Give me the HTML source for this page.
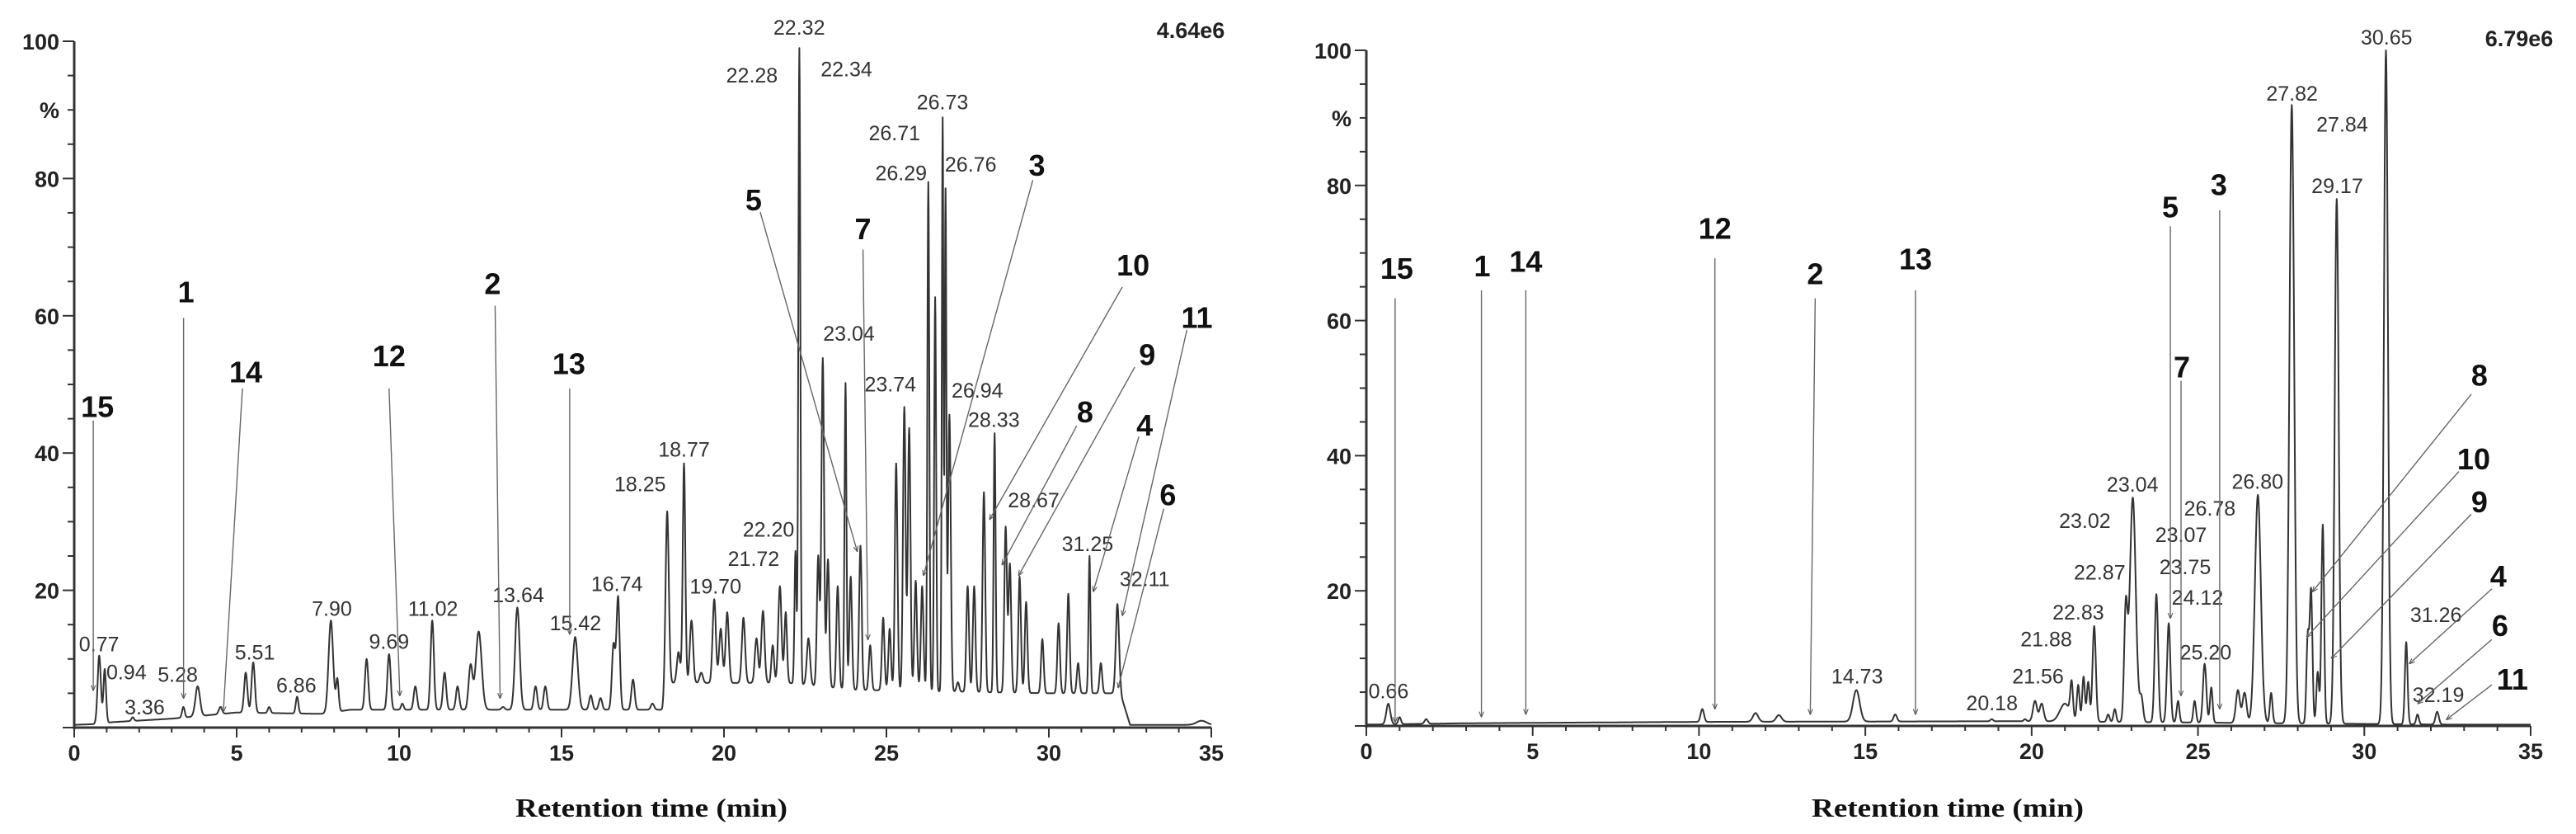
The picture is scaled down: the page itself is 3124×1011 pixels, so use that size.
<!DOCTYPE html>
<html><head><meta charset="utf-8">
<style>
html,body{margin:0;padding:0;background:#fff;}
svg{display:block;}
.tick{font-family:"Liberation Sans",sans-serif;font-weight:bold;font-size:27px;fill:#222;}
.plab{font-family:"Liberation Sans",sans-serif;font-size:25px;fill:#333;}
.num{font-family:"Liberation Sans",sans-serif;font-weight:bold;font-size:36px;fill:#111;}
.xt{font-family:"Liberation Serif",serif;font-weight:bold;font-size:32px;fill:#111;}
</style></head>
<body>
<svg id="root" width="3124" height="1011" viewBox="0 0 3124 1011" xmlns="http://www.w3.org/2000/svg">
<defs>
<marker id="ah" viewBox="0 0 10 10" refX="9" refY="5" markerWidth="5" markerHeight="5" orient="auto"><path d="M0,1 L10,5 L0,9" fill="none" stroke="#555" stroke-width="1.5"/></marker>
</defs>
<g id="left"></g>
<g id="right"></g>
</svg>
<script>
// ---------- LEFT chart data ----------
const leftPeakTimes = [0.77,0.94,1.8,3.36,3.8,4.5,5.28,5.51,6.0,6.86,7.90,8.1,9.0,9.69,10.1,10.5,11.02,11.4,11.8,12.2,12.45,13.2,13.64,14.2,14.5,15.42,15.9,16.2,16.6,16.74,17.2,17.8,18.25,18.6,18.77,19.0,19.3,19.70,19.9,20.1,20.6,21.0,21.2,21.5,21.72,21.9,22.20,22.32,22.6,22.9,23.04,23.2,23.5,23.74,23.9,24.2,24.5,24.9,25.1,25.3,25.55,25.7,25.9,26.1,26.29,26.5,26.73,26.82,26.94,27.2,27.5,27.7,28.0,28.33,28.67,28.8,29.1,29.3,29.8,30.3,30.6,30.9,31.25,31.6,32.11,34.7];
const leftPeakHeights = [10.5,8.5,1.5,3,6,3,8,9.5,3,4.5,15.6,7,10,10.7,3.5,6,15.6,8,6,9,14,3,17.5,6,6,13.2,4.7,4.3,12,19,7,3.5,31.5,11,38.5,15.6,8,18.7,14.4,16.8,16,13,17,12,20.6,16.8,25.7,99,13,25,53.8,24.5,20.6,50.2,22,26.5,12,16,14.4,38.5,46.7,43.6,21.4,20.6,79.5,62.7,88.8,78,45.6,6.6,20.6,20.6,34.3,42.9,29.2,23.8,22,18.3,12.9,15.2,19.5,9.4,25,9.4,18,1];
const leftPeakWidths = [0.05,0.04,0.04,0.04,0.07,0.05,0.05,0.05,0.04,0.04,0.07,0.04,0.05,0.05,0.04,0.05,0.05,0.05,0.05,0.06,0.09,0.05,0.07,0.05,0.05,0.08,0.05,0.05,0.05,0.05,0.05,0.05,0.05,0.05,0.04,0.05,0.05,0.05,0.05,0.05,0.05,0.05,0.05,0.04,0.05,0.04,0.03,0.03,0.05,0.04,0.04,0.04,0.04,0.03,0.04,0.04,0.04,0.04,0.04,0.04,0.04,0.04,0.04,0.04,0.03,0.03,0.025,0.025,0.04,0.04,0.04,0.04,0.04,0.03,0.04,0.04,0.04,0.04,0.04,0.04,0.04,0.04,0.03,0.04,0.05,0.15];
const leftBaseTimes = [0,0.6,1.2,3,5,7.6,8.5,18.1,18.3,22,24,30,32.2,32.5,35];
const leftBaseValues = [0.4,0.5,0.8,1.3,2.2,2,2.6,2.6,6.5,6.5,5.5,5,5,0.4,0.4];
const leftTimeLabels = ["22.32","22.28","22.34","26.73","26.71","26.29","26.76","23.04","23.74","26.94","28.33","28.67","18.77","18.25","22.20","21.72","19.70","16.74","31.25","32.11","13.64","15.42","11.02","7.90","9.69","5.51","6.86","5.28","0.77","0.94","3.36"];
const leftCompoundLabels = ["15","1","14","12","2","13","5","7","3","10","9","8","11","4","6"];

// ---------- RIGHT chart data ----------
const rightPeakTimes = [0.66,1.0,1.8,10.1,11.7,12.4,14.73,15.9,18.8,19.8,20.1,20.3,21.0,21.2,21.4,21.56,21.7,21.88,22.3,22.5,22.83,23.04,23.3,23.75,24.12,24.4,24.9,25.20,25.4,26.2,26.4,26.80,27.2,27.82,28.3,28.4,28.6,28.75,29.17,30.65,31.26,31.6,32.19];
const rightPeakHeights = [3.3,1.3,1,2.5,1.9,1.6,5.3,1.7,1,1,3.7,3.3,3.3,5.7,6,7.3,6.5,14.8,1.7,2.5,16.8,33.8,4.1,19.5,15.2,3.7,3.7,9.2,5.7,5.3,4.9,34.2,4.9,91.9,13.2,19.9,8,29.8,78,100,12.4,1.7,2.1];
const rightPeakWidths = [0.06,0.04,0.05,0.05,0.08,0.08,0.1,0.05,0.04,0.04,0.06,0.06,0.15,0.04,0.04,0.04,0.04,0.05,0.04,0.04,0.05,0.09,0.05,0.05,0.05,0.04,0.04,0.05,0.04,0.06,0.06,0.09,0.04,0.07,0.04,0.04,0.04,0.04,0.06,0.06,0.04,0.04,0.05];
const rightBaseTimes = [0,3,10,20,25,32.5,35];
const rightBaseValues = [0.2,0.4,0.6,0.7,0.5,0.2,0.2];
const rightTimeLabels = ["30.65","27.82","27.84","29.17","26.80","26.78","23.04","23.02","23.07","22.87","23.75","22.83","24.12","21.88","25.20","21.56","20.18","14.73","0.66","31.26","32.19"];
const rightCompoundLabels = ["15","1","14","12","2","13","5","3","7","8","10","9","4","6","11"];

// Layout (pixel positions as measured on a preview; not data)
const leftTimeLabelLayout = [[965,55],[908,145],[1022,133],[1138,195],[1080,253],[1088,328],[1172,312],[1025,628],[1075,723],[1180,735],[1200,790],[1248,940],[826,845],[773,910],[928,995],[910,1050],[864,1102],[745,1097],[1313,1022],[1382,1088],[626,1118],[695,1170],[523,1143],[401,1143],[470,1205],[308,1225],[358,1287],[215,1267],[120,1210],[153,1262],[175,1328]];
const leftCompoundLayout = [[118,765,113,790,113,1295],[225,550,222,598,222,1310],[297,700,293,730,270,1335],[470,670,470,730,483,1305],[595,535,598,575,604,1310],[687,685,688,730,688,1190],[910,378,918,400,1035,1035],[1042,432,1042,470,1048,1200],[1252,313,1247,340,1115,1080],[1368,500,1355,540,1195,975],[1385,668,1370,690,1230,1080],[1310,775,1300,800,1210,1060],[1445,598,1433,620,1355,1155],[1382,800,1375,820,1320,1110],[1410,930,1405,955,1350,1290]];
const rightTimeLabelLayout = [[1337,72],[1222,177],[1283,235],[1277,350],[1180,905],[1122,955],[1028,910],[970,978],[1087,1005],[988,1075],[1092,1065],[962,1150],[1107,1122],[923,1200],[1117,1225],[913,1270],[857,1320],[693,1270],[123,1298],[1397,1155],[1400,1305]];
const rightCompoundLayout = [[133,505,131,560,131,1355],[237,500,236,545,236,1345],[290,492,290,545,290,1340],[520,430,520,485,520,1330],[642,515,642,560,636,1340],[764,487,764,545,764,1340],[1074,390,1074,425,1074,1160],[1133,348,1134,395,1134,1330],[1088,690,1087,715,1087,1305],[1450,705,1440,740,1247,1110],[1443,862,1425,885,1240,1195],[1450,943,1440,965,1270,1235],[1473,1082,1465,1105,1365,1245],[1475,1175,1465,1200,1375,1320],[1490,1275,1465,1285,1410,1350]];

const NS = "http://www.w3.org/2000/svg";
function mk(tag, attrs, parent){
  const e = document.createElementNS(NS, tag);
  for (const k in attrs) e.setAttribute(k, attrs[k]);
  parent.appendChild(e);
  return e;
}
function interp(ts, vs, t){
  if (t <= ts[0]) return vs[0];
  for (let i=1;i<ts.length;i++){
    if (t <= ts[i]) return vs[i-1] + (vs[i]-vs[i-1])*(t-ts[i-1])/(ts[i]-ts[i-1]);
  }
  return vs[vs.length-1];
}

function drawChart(g, cfg){
  const xS = t => cfg.x0 + (t/35)*(cfg.x35 - cfg.x0);
  const yS = v => cfg.y0 - (v/100)*(cfg.y0 - cfg.y100);
  const dx = d => cfg.x0 + (d - cfg.dAxisX) * cfg.fx;
  const dy = d => cfg.y100 + (d - cfg.dY100) * cfg.fy;

  let pts = [];
  for (let i=0;i<=3500;i++){
    const t = i*0.01;
    const base = interp(cfg.baseT, cfg.baseV, t);
    let v = base;
    for (let k=0;k<cfg.times.length;k++){
      const s = cfg.widths[k];
      const d = (t - cfg.times[k]) / s;
      if (Math.abs(d) < 6){
        const h = Math.max(0, cfg.heights[k] - interp(cfg.baseT, cfg.baseV, cfg.times[k]));
        v += h*Math.exp(-0.5*d*d);
      }
    }
    pts.push((i?"L":"M")+xS(t).toFixed(1)+","+yS(Math.min(v,100)).toFixed(1));
  }
  const trace = mk("path",{d:pts.join(""),fill:"none",stroke:"#333","stroke-width":"2","stroke-linejoin":"round"},g);
  
  

  const yAxis = mk("line",{x1:cfg.x0,y1:cfg.y100,x2:cfg.x0,y2:cfg.y0+2,stroke:"#333","stroke-width":"3"},g);
  
  
  const xAxis = mk("line",{x1:cfg.x0,y1:cfg.y0,x2:cfg.x35,y2:cfg.y0,stroke:"#333","stroke-width":"3"},g);
  
  

  for (let v=0; v<=100; v+=5){
    const major = v%20===0;
    const tk = mk("line",{x1:cfg.x0-(major?14:8),y1:yS(v),x2:cfg.x0,y2:yS(v),stroke:"#333","stroke-width":"2"},g);
    
    
    if (major && v>0){
      const tl = mk("text",{x:cfg.x0-18,y:yS(v)+10,"text-anchor":"end",class:"tick"},g);
      tl.textContent = v;
      
      
    }
  }
  const pc = mk("text",{x:cfg.x0-18,y:yS(90)+10,"text-anchor":"end",class:"tick"},g);
  pc.textContent = "%";
  
  

  for (let t=0; t<=35; t++){
    const major = t%5===0;
    const tk = mk("line",{x1:xS(t),y1:cfg.y0,x2:xS(t),y2:cfg.y0+(major?12:6),stroke:"#333","stroke-width":"2"},g);
    
    
    if (major){
      const tl = mk("text",{x:xS(t),y:cfg.y0+40,"text-anchor":"middle",class:"tick"},g);
      tl.textContent = t;
      
      
    }
  }
  const xt = mk("text",{x:cfg.titleX,y:990,"text-anchor":"middle",class:"xt",textLength:"330",lengthAdjust:"spacingAndGlyphs"},g);
  xt.textContent = "Retention time (min)";
  
  

  const sc = mk("text",{x:cfg.scaleX,y:cfg.scaleY,"text-anchor":"middle",class:"tick","font-size":"26"},g);
  sc.textContent = cfg.scale;
  
  

  cfg.timeLabels.forEach((s,i)=>{
    const p = cfg.timeLayout[i];
    const t = mk("text",{x:dx(p[0]),y:dy(p[1])+8,"text-anchor":"middle",class:"plab"},g);
    t.textContent = s;
    
    
  });

  cfg.compounds.forEach((s,i)=>{
    const p = cfg.compLayout[i];
    const ln = mk("line",{x1:dx(p[2]),y1:dy(p[3]),x2:dx(p[4]),y2:dy(p[5]),stroke:"#666","stroke-width":"1.4","marker-end":"url(#ah)"},g);
    
    
    const t = mk("text",{x:dx(p[0]),y:dy(p[1])+12,"text-anchor":"middle",class:"num"},g);
    t.textContent = s;
    
    
  });
}

drawChart(document.getElementById("left"), {
  prefix:"left", x0:90, x35:1469, y0:882, y100:50,
  dAxisX:90, fx:1.0048, dY100:80, fy:0.6475,
  times:leftPeakTimes, heights:leftPeakHeights, widths:leftPeakWidths,
  baseT:leftBaseTimes, baseV:leftBaseValues,
  timeLabels:leftTimeLabels, timeLayout:leftTimeLabelLayout,
  compounds:leftCompoundLabels, compLayout:leftCompoundLayout,
  titleX:790, scale:"4.64e6", scaleX:1444, scaleY:46
});
drawChart(document.getElementById("right"), {
  prefix:"right", x0:1657, x35:3069, y0:880, y100:61,
  dAxisX:96, fx:0.997, dY100:95, fy:0.6464,
  times:rightPeakTimes, heights:rightPeakHeights, widths:rightPeakWidths,
  baseT:rightBaseTimes, baseV:rightBaseValues,
  timeLabels:rightTimeLabels, timeLayout:rightTimeLabelLayout,
  compounds:rightCompoundLabels, compLayout:rightCompoundLayout,
  titleX:2362, scale:"6.79e6", scaleX:3055, scaleY:56
});
</script>
</body></html>
